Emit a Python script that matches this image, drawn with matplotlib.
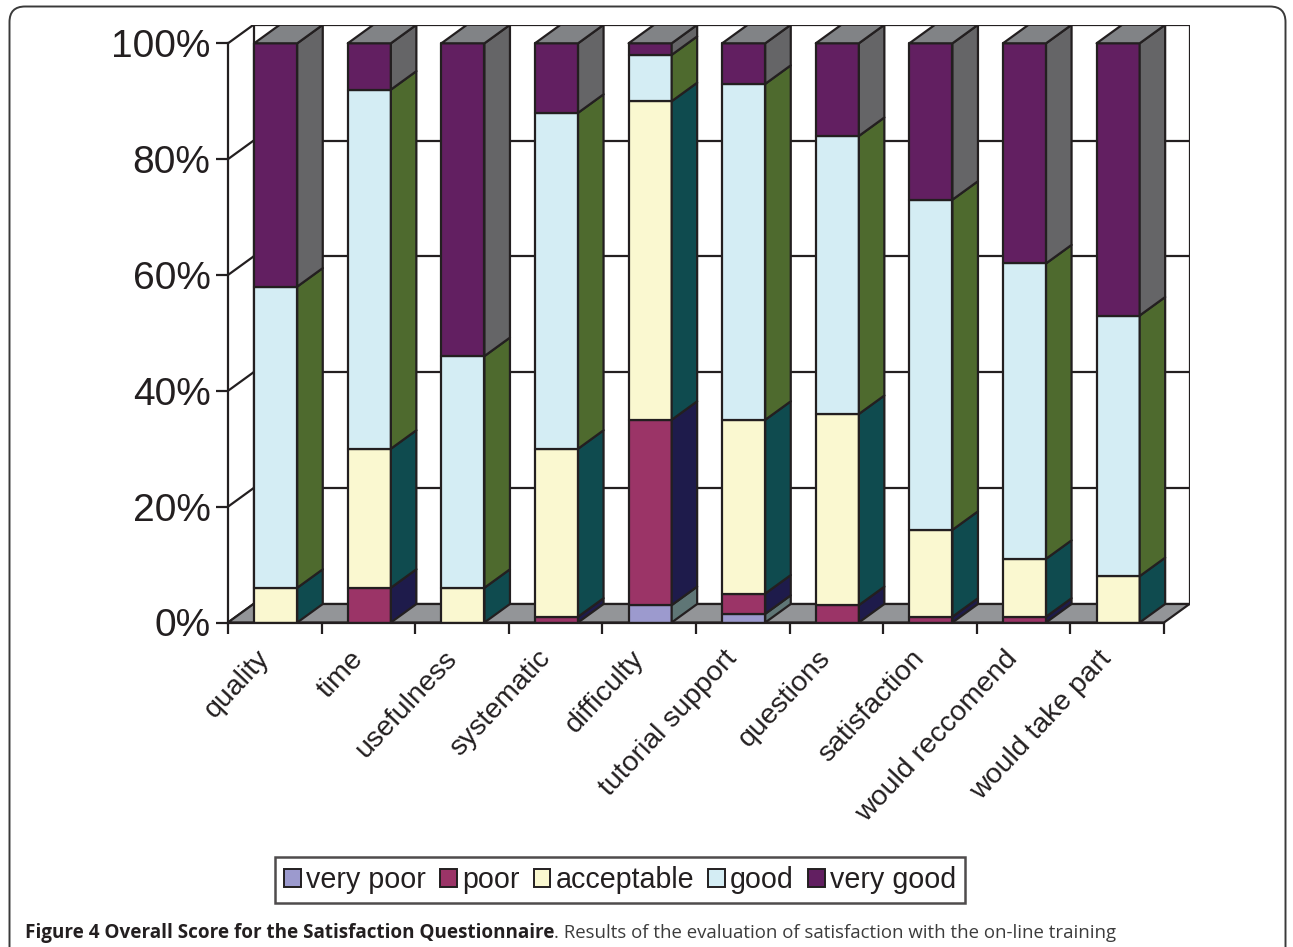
import matplotlib
matplotlib.use("Agg")
import matplotlib.pyplot as plt
import matplotlib.transforms as mtransforms
from matplotlib.patches import Polygon, Rectangle, Patch, FancyBboxPatch

# ---- data -------------------------------------------------------------
categories = ["quality", "time", "usefulness", "systematic", "difficulty",
              "tutorial support", "questions", "satisfaction",
              "would reccomend", "would take part"]
levels = ["very poor", "poor", "acceptable", "good", "very good"]

very_poor = [0, 0, 0, 0, 3, 1.5, 0, 0, 0, 0]
poor = [0, 6, 0, 1, 32, 3.5, 3, 1, 1, 0]
acceptable = [6, 24, 6, 29, 55, 30, 33, 15, 10, 8]
good = [52, 62, 40, 58, 8, 58, 48, 57, 51, 45]
very_good = [42, 8, 54, 12, 2, 7, 16, 27, 38, 47]

y_ticks = [0, 20, 40, 60, 80, 100]
y_tick_labels = ["0%", "20%", "40%", "60%", "80%", "100%"]

caption_bold = "Figure 4 Overall Score for the Satisfaction Questionnaire"
caption_rest = ". Results of the evaluation of satisfaction with the on-line training"

# ---- styling ----------------------------------------------------------
front_colors = ["#9C9ACE", "#9B3467", "#FAF8D0", "#D4EDF4", "#621F61"]
side_colors = ["#5F7676", "#1E1B4B", "#0F4B4F", "#4E6A2E", "#656567"]
top_color = "#818386"
floor_color = "#939598"
ink = "#231F20"
lw = 1.6

W, H = 1293, 947
plt.rcParams["font.family"] = ["Liberation Sans", "DejaVu Sans"]
fig = plt.figure(figsize=(W / 100, H / 100), dpi=100)

# plot box (pixels): front plane x 228..1164, y 622.5 (0%) .. 43.3 (100%)
px_left, px_right_front = 228.0, 1164.0
px_zero, px_full = 622.5, 43.3
depth_px_x, depth_px_y = 25.5, 18.5

n = len(categories)
unit_x = (px_right_front - px_left) / n
unit_y = (px_zero - px_full) / 100.0
ddx = depth_px_x / unit_x
ddy = depth_px_y / unit_y

ax = fig.add_axes([px_left / W, (H - px_zero) / H,
                   (px_right_front + depth_px_x - px_left) / W,
                   (px_zero - px_full + depth_px_y) / H])
ax.set_xlim(0, n + ddx)
ax.set_ylim(0, 100 + ddy)
ax.patch.set_visible(False)
for s in ["top", "right"]:
    ax.spines[s].set_visible(False)
ax.spines["left"].set_bounds(0, 100)
ax.spines["bottom"].set_bounds(0, n)
for s in ["left", "bottom"]:
    ax.spines[s].set_linewidth(lw)
    ax.spines[s].set_color(ink)
    ax.spines[s].set_zorder(6)

# back wall, side wall and grid
for v in y_ticks:
    ax.plot([0, ddx], [v, v + ddy], color=ink, lw=lw, zorder=1,
            solid_capstyle="butt")
    ax.plot([ddx, n + ddx], [v + ddy, v + ddy], color=ink, lw=lw, zorder=1)
ax.plot([ddx, ddx], [ddy, 100 + ddy], color=ink, lw=lw, zorder=1)
ax.plot([n + ddx, n + ddx], [ddy, 100 + ddy], color=ink, lw=lw, zorder=1)

# floor
ax.add_patch(Polygon([(0, 0), (n, 0), (n + ddx, ddy), (ddx, ddy)],
                     closed=True, facecolor=floor_color, edgecolor=ink,
                     lw=lw, zorder=2, joinstyle="round"))

# stacked 3-d bars
series = [very_poor, poor, acceptable, good, very_good]
bar_w = 0.46
for i in range(n):
    x0 = i + 0.5 - bar_w / 2 + 0.01
    x1 = x0 + bar_w
    base = 0.0
    for k, vals in enumerate(series):
        h = vals[i]
        if h <= 0:
            continue
        top = base + h
        ax.add_patch(Rectangle((x0, base), bar_w, h, facecolor=front_colors[k],
                               edgecolor=ink, lw=lw, zorder=3,
                               joinstyle="round"))
        ax.add_patch(Polygon([(x1, base), (x1 + ddx, base + ddy),
                              (x1 + ddx, top + ddy), (x1, top)], closed=True,
                             facecolor=side_colors[k], edgecolor=ink, lw=lw,
                             zorder=3, joinstyle="round"))
        base = top
    ax.add_patch(Polygon([(x0, base), (x1, base), (x1 + ddx, base + ddy),
                          (x0 + ddx, base + ddy)], closed=True,
                         facecolor=top_color, edgecolor=ink, lw=lw, zorder=3,
                         joinstyle="round"))

# axes ticks and labels
ax.set_yticks(y_ticks)
ax.set_yticklabels(y_tick_labels, fontsize=28, color=ink)
ax.tick_params(axis="y", direction="out", length=8.6, width=lw, color=ink,
               pad=4)
centers = [i + 0.5 for i in range(n)]
ax.set_xticks(centers)
ax.set_xticklabels(categories, fontsize=20.5, color=ink, rotation=47,
                   ha="right", va="center", rotation_mode="anchor")
ax.tick_params(axis="x", which="major", length=0, pad=23)
label_shift = mtransforms.ScaledTranslation(-7 / 72, 0, fig.dpi_scale_trans)
for lab in ax.get_xticklabels():
    lab.set_transform(lab.get_transform() + label_shift)
ax.set_xticks(list(range(n + 1)), minor=True)
ax.tick_params(axis="x", which="minor", direction="out", length=8,
               width=lw, color=ink)

# legend
handles = [Patch(facecolor=front_colors[k], edgecolor=ink, lw=1.4)
           for k in range(len(levels))]
leg = fig.legend(handles, levels, loc="center", ncol=5,
                 bbox_to_anchor=(620 / W, (H - 880) / H), fontsize=20.6,
                 frameon=True, fancybox=False, handlelength=0.58,
                 handleheight=0.58, handletextpad=0.18, columnspacing=0.5,
                 borderpad=0.33, borderaxespad=0)
leg.get_frame().set_edgecolor(ink)
leg.get_frame().set_linewidth(1.8)
for t in leg.get_texts():
    t.set_color(ink)

# caption
cap_y = (H - 938) / H
cap_family = ["Liberation Sans Narrow", "Open Sans", "DejaVu Sans"]
bold = fig.text(25 / W, cap_y, caption_bold, fontsize=13.6, fontweight="bold",
                color=ink, va="baseline", family=cap_family)
ax.annotate(caption_rest, xy=(1, cap_y), xycoords=(bold, "figure fraction"),
            fontsize=13.4, color="#3C3C3C", va="baseline", ha="left",
            family=cap_family, annotation_clip=False)

# outer rounded frame
frame = FancyBboxPatch((9.5 / W, -0.05), (1285.5 - 9.5) / W,
                       (H - 6.5) / H + 0.05,
                       boxstyle="round,pad=0,rounding_size=0.012",
                       transform=fig.transFigure, facecolor="none",
                       edgecolor="#3A3A3A", lw=1.4, mutation_aspect=W / H)
fig.patches.append(frame)

fig.savefig("out.png", dpi=100)
